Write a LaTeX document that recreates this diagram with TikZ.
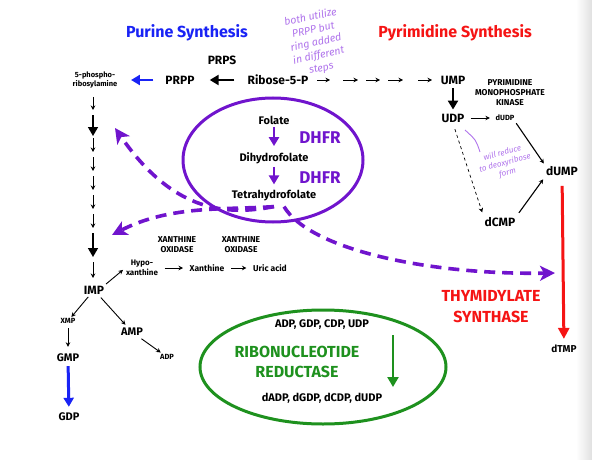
\documentclass[tikz,border=0pt]{standalone}
\usepackage{fontspec}
\setmainfont{Fira Sans}
\usetikzlibrary{arrows.meta,calc}

\definecolor{purblue}{RGB}{25,35,245}
\definecolor{pyrred}{RGB}{245,20,20}
\definecolor{folpurple}{RGB}{112,20,205}
\definecolor{notepurple}{RGB}{175,115,235}
\definecolor{rngreen}{RGB}{30,145,30}
\newcommand{\setfs}[2]{\fontsize{#1}{#2}\selectfont}

\tikzset{
  lbl/.style={font=\bfseries\setfs{12}{14}, inner sep=1pt, align=center},
  ttl/.style={font=\bfseries\setfs{16}{18}, inner sep=0pt},
  caplbl/.style={font=\bfseries\setfs{8.5}{10}, inner sep=0.5pt, align=center},
  tinylbl/.style={font=\bfseries\setfs{8.5}{9}, inner sep=0.5pt, align=center},
  bigtxt/.style={font=\bfseries\setfs{17}{20}, inner sep=0pt, align=center},
  smallarr/.style={-{Stealth[length=4.5pt,width=4.5pt]}, line width=0.9pt},
  bigarr/.style={-{Triangle[length=9pt,width=10pt]}, line width=2.4pt},
  dasharr/.style={folpurple, line width=3.6pt, dash pattern=on 11pt off 7pt,
    -{Stealth[length=15pt,width=15pt,inset=4pt]}},
  note/.style={notepurple, font=\itshape\setfs{10.5}{13}, align=center, inner sep=0pt}
}

\begin{document}
\begin{tikzpicture}[x=1pt,y=-1pt]
  \useasboundingbox (0,0) rectangle (592,460);
  \shade[left color=white, right color=black!12] (576,0) rectangle (592,460);

  % titles
  \node[ttl, purblue] (purT) at (187,33) {Purine Synthesis};
  \node[ttl, pyrred] (pyrT) at (455,33) {Pyrimidine Synthesis};
  \node[note, rotate=12] (noteA) at (316,43)
    {both utilize\\PRPP but\\ring added\\in different\\steps};

  % top row
  \node[tinylbl, font=\bfseries\setfs{7.5}{8.5}] (pra) at (95,80) {5-phospho-\\ribosylamine};
  \node[lbl] (prpp) at (180,80) {PRPP};
  \node[lbl] (rib) at (278,80) {Ribose-5-P};
  \node[lbl] (prps) at (222,60) {PRPS};
  \node[lbl] (ump) at (453,80) {UMP};
  \node[caplbl] (pmk) at (510,93) {PYRIMIDINE\\MONOPHOSPHATE\\KINASE};
  \draw[bigarr, purblue, shorten <=11pt, shorten >=13pt] (prpp) -- (pra);
  \draw[bigarr, shorten <=12pt, shorten >=14pt] (rib) -- (prpp);
  \foreach \xa/\xb in {317/330,343/358,366/380,388/403,418/432}{
    \coordinate (r\xa) at (\xa,80);
    \coordinate (s\xa) at (\xb,80);
    \draw[smallarr] (r\xa) -- (s\xa);
  }

  % pyrimidine side
  \node[lbl] (udp) at (453,118) {UDP};
  \node[tinylbl, font=\bfseries\setfs{7.5}{9}] (dudp) at (505,118) {dUDP};
  \node[lbl] (dump) at (562,171) {dUMP};
  \node[lbl] (dcmp) at (500,222) {dCMP};
  \node[lbl, font=\bfseries\setfs{10}{12}] (dtmp) at (564,349) {dTMP};
  \node[bigtxt, pyrred, font=\bfseries\setfs{16}{21}] (thyS) at (491,307) {THYMIDYLATE\\SYNTHASE};
  \draw[bigarr, shorten <=3pt, shorten >=3pt] (ump) -- (udp);
  \draw[smallarr, shorten <=5pt, shorten >=5pt] (udp) -- (dudp);
  \draw[smallarr, line width=1.1pt, shorten <=2pt, shorten >=2pt] (dudp.south east) -- (dump.north west);
  \draw[smallarr, dashed, line width=0.7pt, shorten <=6pt, shorten >=4pt] (udp.south) -- (dcmp.north west);
  \draw[smallarr, line width=1.1pt, shorten <=4pt, shorten >=3pt] (dcmp.north east) -- (dump.south west);
  \draw[pyrred, line width=3pt, -{Triangle[length=11pt,width=11pt]},
    shorten <=9pt, shorten >=5pt] (dump) -- (dtmp);
  \draw[notepurple, line width=0.9pt] (465,130) .. controls (476,140) .. (480,152);
  \node[note, font=\itshape\setfs{8}{10}, rotate=15] (noteB) at (505,163)
    {will reduce\\to deoxyribose\\form};

  % purine column
  \node[lbl] (imp) at (94,290) {IMP};
  \foreach \ya/\yb in {97/110,138/152,157/171,176/190,195/209,214/228,262/278}{
    \coordinate (p\ya) at (93,\ya);
    \coordinate (q\ya) at (93,\yb);
    \draw[smallarr] (p\ya) -- (q\ya);
  }
  \foreach \ya/\yb in {115/136,233/257}{
    \coordinate (p\ya) at (93,\ya);
    \coordinate (q\ya) at (93,\yb);
    \draw[bigarr, line width=1.6pt] (p\ya) -- (q\ya);
  }
  \node[tinylbl, font=\bfseries\setfs{8}{10}] (hypo) at (142,268) {Hypo-\\xanthine};
  \node[tinylbl] (xan) at (207,268) {Xanthine};
  \node[tinylbl] (uric) at (270,268) {Uric acid};
  \node[caplbl] (xo1) at (177,245) {XANTHINE\\OXIDASE};
  \node[caplbl] (xo2) at (241,245) {XANTHINE\\OXIDASE};
  \draw[smallarr, shorten <=1pt, shorten >=3pt] (imp.north east) -- (hypo.west);
  \draw[smallarr, shorten <=6pt, shorten >=6pt] (hypo) -- (xan);
  \draw[smallarr, shorten <=6pt, shorten >=6pt] (xan) -- (uric);

  \node[tinylbl, font=\bfseries\setfs{7.5}{8}] (xmp) at (68,321) {XMP};
  \node[lbl, font=\bfseries\setfs{11}{13}] (gmp) at (68,358) {GMP};
  \node[lbl, font=\bfseries\setfs{11}{13}] (gdp) at (69,417) {GDP};
  \node[lbl, font=\bfseries\setfs{11}{13}] (amp) at (132,332) {AMP};
  \node[tinylbl, font=\bfseries\setfs{7.5}{8}] (adp) at (167,357) {ADP};
  \draw[smallarr, shorten <=2pt, shorten >=1pt] (imp) -- (xmp);
  \draw[smallarr, shorten <=3pt, shorten >=3pt] (imp) -- (amp);
  \draw[smallarr, shorten <=3pt, shorten >=2pt] (amp) -- (adp);
  \draw[smallarr, shorten <=4pt, shorten >=6pt] (xmp) -- (gmp);
  \draw[bigarr, purblue, line width=3pt, shorten <=3pt, shorten >=5pt] (gmp) -- (gdp);

  % folate cycle
  \draw[folpurple, line width=3pt] (273,160) ellipse [x radius=90, y radius=62];
  \node[lbl, font=\bfseries\setfs{11}{13}] (fol) at (274,120) {Folate};
  \node[lbl, font=\bfseries\setfs{11}{13}] (dhf) at (274,158) {Dihydrofolate};
  \node[lbl, font=\bfseries\setfs{11}{13}] (thf) at (274,196) {Tetrahydrofolate};
  \node[bigtxt, folpurple] (dhfrA) at (320,138) {DHFR};
  \node[bigtxt, folpurple] (dhfrB) at (320,178) {DHFR};
  \draw[bigarr, folpurple, line width=2.4pt, shorten <=2pt, shorten >=5pt] (fol) -- (dhf);
  \draw[bigarr, folpurple, line width=2.4pt, shorten <=2pt, shorten >=5pt] (dhf) -- (thf);

  \coordinate (purA) at (115,128);
  \coordinate (purB) at (112,235);
  \coordinate (tsA) at (555,273);
  \draw[dasharr] ([yshift=-4pt]thf.south) .. controls (230,215) and (175,215) .. (purA);
  \draw[dasharr] ([yshift=-4pt]thf.south) .. controls (225,210) and (170,205) .. (purB);
  \draw[dasharr] ([xshift=10pt,yshift=-4pt]thf.south) .. controls (310,250) and (430,275) .. (tsA);

  % ribonucleotide reductase
  \draw[rngreen, line width=3pt] (323,367) ellipse [x radius=123, y radius=57];
  \node[lbl, font=\bfseries\setfs{11}{13}] (rdp) at (322,325) {ADP, GDP, CDP, UDP};
  \node[bigtxt, rngreen, font=\bfseries\setfs{16}{20}] (rnr) at (297,362) {RIBONUCLEOTIDE\\REDUCTASE};
  \node[lbl, font=\bfseries\setfs{11}{13}] (ddp) at (322,398) {dADP, dGDP, dCDP, dUDP};
  \coordinate (rnA) at (393,335);
  \coordinate (rnB) at (393,387);
  \draw[rngreen, line width=2.4pt, -{Triangle[length=10pt,width=11pt]}] (rnA) -- (rnB);
\end{tikzpicture}
\end{document}
